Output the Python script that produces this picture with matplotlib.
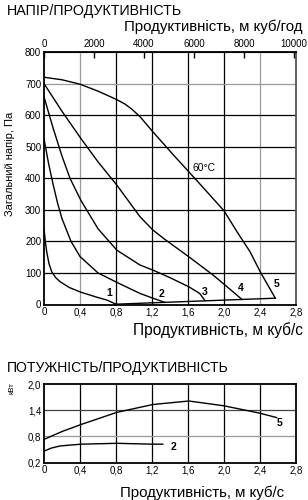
import matplotlib
matplotlib.use("Agg")
import matplotlib.pyplot as plt

plt.rcParams["font.family"] = ["Liberation Sans", "DejaVu Sans"]

# --- pressure / flow curves (x in m3/s, y in Pa) ---
c1_x = [0, 0.015, 0.03, 0.055, 0.085, 0.13, 0.18, 0.28, 0.41, 0.6, 0.7, 0.8]
c1_y = [240, 200, 167, 130, 104, 85, 72, 54, 39, 22, 14, 1]
c2_x = [0, 0.05, 0.1, 0.15, 0.2, 0.3, 0.4, 0.6, 0.81, 1.067, 1.21, 1.34]
c2_y = [525, 448, 382, 322, 272, 200, 152, 100, 70, 35, 20, 7]
c3_x = [0, 0.1, 0.2, 0.29, 0.41, 0.6, 0.81, 1.067, 1.21, 1.4, 1.61, 1.73, 1.79]
c3_y = [658, 560, 470, 399, 330, 240, 172, 125, 109, 85, 56, 35, 12]
c4_x = [0, 0.2, 0.41, 0.6, 0.81, 1.067, 1.21, 1.33, 1.61, 1.88, 2.01, 2.2]
c4_y = [700, 612, 526, 452, 378, 278, 236, 209, 151, 93, 62, 16]
c5_x = [0, 0.2, 0.4, 0.6, 0.81, 0.9, 0.98, 1.07, 1.21, 1.45, 1.7, 2.0, 2.15, 2.29, 2.4, 2.57]
c5_y = [720, 712, 698, 676, 649, 635, 618, 594, 547, 470, 392, 297, 228, 167, 105, 20]
edge_x = [0.8, 2.57]
edge_y = [1, 20]

curve_labels = ["1", "2", "3", "4", "5"]
label_x = [0.73, 1.30, 1.79, 2.19, 2.585]
label_y = [35, 33, 41, 51, 64]

# --- power / flow curves (kW) ---
p5_x = [0, 0.2, 0.41, 0.81, 1.21, 1.61, 2.0, 2.4, 2.585]
p5_y = [0.73, 0.91, 1.07, 1.35, 1.53, 1.61, 1.50, 1.33, 1.23]
p2_x = [0, 0.08, 0.18, 0.41, 0.81, 1.21, 1.32]
p2_y = [0.46, 0.53, 0.58, 0.62, 0.64, 0.62, 0.62]

x_ticks = [0, 0.4, 0.8, 1.2, 1.6, 2.0, 2.4, 2.8]
x_ticklabels = ["0", "0,4", "0,8", "1,2", "1,6", "2,0", "2,4", "2,8"]
top_ticks = [0, 2000, 4000, 6000, 8000, 10000]
p_ticks = [0.2, 0.8, 1.4, 2.0]
p_ticklabels = ["0,2", "0,8", "1,4", "2,0"]

W, H = 308, 500
fig = plt.figure(figsize=(W / 100, H / 100), dpi=100)

def px(x0, y0, x1, y1):
    return [x0 / W, 1 - y1 / H, (x1 - x0) / W, (y1 - y0) / H]

# ===== main chart =====
ax = fig.add_axes(px(44, 52, 296, 304.5))
ax.set_xlim(0, 2.8)
ax.set_ylim(0, 800)
for gx in [0.4, 0.8, 1.2, 1.6, 2.0, 2.4]:
    col = "#999999" if gx in (0.4, 2.4) else "black"
    ax.axvline(gx, color=col, lw=0.9, zorder=1)
for gy in range(100, 800, 100):
    col = "#999999" if gy == 700 else "black"
    ax.axhline(gy, color=col, lw=0.9, zorder=1)

for xs, ys in [(c1_x, c1_y), (c2_x, c2_y), (c3_x, c3_y), (c4_x, c4_y), (c5_x, c5_y), (edge_x, edge_y)]:
    ax.plot(xs, ys, color="black", lw=1.0, zorder=3)
for t, lx, ly in zip(curve_labels, label_x, label_y):
    ax.text(lx, ly, t, fontsize=7.5, fontweight="bold", ha="center", va="center", zorder=4)
ax.text(1.65, 431, "60°C", fontsize=7.5, ha="left", va="center", zorder=4)

ax.set_xticks(x_ticks)
ax.set_xticklabels(x_ticklabels)
ax.set_yticks(range(0, 900, 100))
ax.tick_params(axis="both", length=0, labelsize=7, pad=2)
for s in ax.spines.values():
    s.set_linewidth(1.3)
ax.spines["right"].set_color("#555555")

top = ax.secondary_xaxis("top", functions=(lambda v: v * 3600, lambda v: v / 3600))
top.set_xticks(top_ticks)
top.set_xticklabels([str(t) for t in top_ticks])
top.tick_params(direction="in", length=4, width=1.0, labelsize=7, pad=2)

fig.text(7 / W, 1 - 11 / H, "НАПІР/ПРОДУКТИВНІСТЬ", fontsize=10.3, ha="left", va="center")
fig.text(303 / W, 1 - 27 / H, "Продуктивність, м куб/год", fontsize=10.8, ha="right", va="center")
fig.text(10 / W, 1 - 164 / H, "Загальний напір, Па", fontsize=8, rotation=90, ha="center", va="center")
fig.text(303 / W, 1 - 330 / H, "Продуктивність, м куб/с", fontsize=11.2, ha="right", va="center")

# ===== power chart =====
bx = fig.add_axes(px(44, 384, 296, 462.5))
bx.set_xlim(0, 2.8)
bx.set_ylim(0.2, 2.0)
for gx in [0.4, 0.8, 1.2, 1.6, 2.0, 2.4]:
    bx.axvline(gx, color="black", lw=0.9, zorder=1)
bx.axhline(1.4, color="#444444", lw=0.9, zorder=1)
bx.axhline(0.8, color="#999999", lw=0.9, zorder=1)
bx.plot(p5_x, p5_y, color="black", lw=1.0, zorder=3)
bx.plot(p2_x, p2_y, color="black", lw=1.0, zorder=3)
bx.text(1.44, 0.56, "2", fontsize=7.5, fontweight="bold", ha="center", va="center")
bx.text(2.62, 1.10, "5", fontsize=7.5, fontweight="bold", ha="center", va="center")
bx.set_xticks(x_ticks)
bx.set_xticklabels(x_ticklabels)
bx.set_yticks(p_ticks)
bx.set_yticklabels(p_ticklabels)
bx.tick_params(axis="both", length=0, labelsize=7, pad=2)
for s in bx.spines.values():
    s.set_linewidth(1.3)

fig.text(7 / W, 1 - 368 / H, "ПОТУЖНІСТЬ/ПРОДУКТИВНІСТЬ", fontsize=10.1, ha="left", va="center")
fig.text(12 / W, 1 - 388 / H, "кВт", fontsize=5.5, rotation=90, ha="center", va="center")
fig.text(284 / W, 1 - 493 / H, "Продуктивність, м куб/с", fontsize=10.8, ha="right", va="center")

fig.savefig("out.png", dpi=100, facecolor="white")
